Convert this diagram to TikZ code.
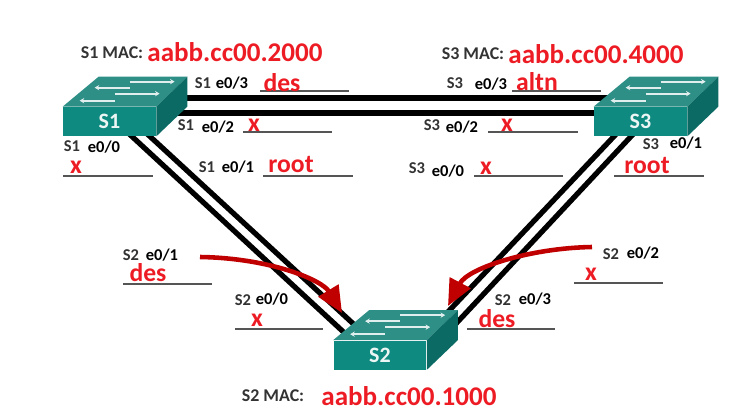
\documentclass[tikz,border=0pt]{standalone}
\usepackage{fontspec}
\setmainfont{Carlito}
\usetikzlibrary{arrows.meta}
\definecolor{swfront}{HTML}{0F8A80}
\definecolor{swtop}{HTML}{2E8F87}
\definecolor{swside}{HTML}{0B6A63}
\definecolor{portred}{HTML}{ED1C24}
\definecolor{markred}{HTML}{C00000}
\definecolor{blankgray}{HTML}{555555}
\tikzset{
  swbox/.style={fill=swfront,minimum width=1.86cm,minimum height=0.58cm,inner sep=0pt,
    text=white!92!swfront,font=\bfseries\fontsize{12.5}{13}\selectfont},
  swflow/.style={draw=white!85!swtop,line width=1pt,-{Stealth[length=2.6pt,width=3pt]}},
  link/.style={black,line width=3pt},
  blank/.style={blankgray,line width=0.8pt},
  redarrow/.style={markred,line width=2.6pt,-{Triangle[width=13pt,length=15pt]}},
  iface/.style={inner sep=0pt,font=\bfseries\fontsize{9.4}{10}\selectfont,text=black!80},
  macname/.style={inner sep=0pt,font=\bfseries\fontsize{10.2}{11}\selectfont,text=black!80},
  port/.style={inner sep=0pt,font=\bfseries\fontsize{9.4}{10}\selectfont},
  state/.style={inner sep=0pt,text=portred,font=\bfseries\fontsize{14.6}{15}\selectfont},
  macaddr/.style={inner sep=0pt,text=portred,font=\bfseries\fontsize{15.4}{16}\selectfont},
}
% front face first, top and side hang on its corners
\newcommand{\switchbox}[4]{
  \node[swbox] (#1) at (#2,-#3) {#4};
  \fill[swtop] (#1.north west) -- ([shift={(36,30)}]#1.north west)
    -- ([shift={(31,30)}]#1.north east) -- (#1.north east) -- cycle;
  \fill[swside] (#1.north east) -- ([shift={(31,30)}]#1.north east)
    -- ([shift={(31,0)}]#1.north east) -- (#1.south east) -- cycle;
  \draw[swflow] ([shift={(67,25)}]#1.north west) -- ([shift={(112,25)}]#1.north west);
  \draw[swflow] ([shift={(67,19)}]#1.north west) -- ([shift={(32,19)}]#1.north west);
  \draw[swflow] ([shift={(52,13)}]#1.north west) -- ([shift={(97,13)}]#1.north west);
  \draw[swflow] ([shift={(52,6)}]#1.north west) -- ([shift={(17,6)}]#1.north west);
}
\begin{document}
\begin{tikzpicture}[x=0.02cm,y=0.02cm]
  \useasboundingbox (0,0) rectangle (735,-417);
  % link ends
  \coordinate (s1topa) at (170,-98);
  \coordinate (s3topa) at (620,-98);
  \coordinate (s1topb) at (170,-113);
  \coordinate (s3topb) at (610,-113);
  \coordinate (s1lefta) at (125,-130);
  \coordinate (s2lefta) at (350,-338);
  \coordinate (s1leftb) at (143,-130);
  \coordinate (s2leftb) at (360,-330);
  \coordinate (s3righta) at (620,-130);
  \coordinate (s2righta) at (445,-315);
  \coordinate (s3rightb) at (637,-130);
  \coordinate (s2rightb) at (450,-330);
  \draw[link] (s1topa) -- (s3topa);
  \draw[link] (s1topb) -- (s3topb);
  \draw[link] (s1lefta) -- (s2lefta);
  \draw[link] (s1leftb) -- (s2leftb);
  \draw[link] (s3righta) -- (s2righta);
  \draw[link] (s3rightb) -- (s2rightb);
  % switches
  \switchbox{s1}{109.5}{121.5}{S1}
  \switchbox{s3}{640.5}{121.5}{S3}
  \switchbox{s2}{380}{355}{S2}
  % mac addresses
  \node[macname] (macsa) at (112,-53) {S1 MAC:};
  \node[macaddr] (maca) at (235,-52) {aabb.cc00.2000};
  \node[macname] (macsc) at (473,-54) {S3 MAC:};
  \node[macaddr] (macc) at (596,-54) {aabb.cc00.4000};
  \node[macname] (macsb) at (273,-396) {S2 MAC:};
  \node[macaddr] (macb) at (409,-396) {aabb.cc00.1000};
  % S1 ports
  \coordinate (bla) at (260,-91); \coordinate (blb) at (349,-91);
  \draw[blank] (bla) -- (blb);
  \node[iface] (swa) at (203,-83) {S1};
  \node[port] (pta) at (232,-83) {e0/3};
  \node[state] (sta) at (282,-83) {des};
  \coordinate (blc) at (243,-132); \coordinate (bld) at (332,-132);
  \draw[blank] (blc) -- (bld);
  \node[iface] (swb) at (186,-125) {S1};
  \node[port] (ptb) at (218,-127) {e0/2};
  \node[state] (stb) at (254,-125) {x};
  \coordinate (ble) at (63,-176); \coordinate (blf) at (153,-176);
  \draw[blank] (ble) -- (blf);
  \node[iface] (swc) at (72,-146) {S1};
  \node[port] (ptc) at (104,-147) {e0/0};
  \node[state] (stc) at (76,-167) {x};
  \coordinate (blg) at (263,-176); \coordinate (blh) at (353,-176);
  \draw[blank] (blg) -- (blh);
  \node[iface] (swd) at (207,-167) {S1};
  \node[port] (ptd) at (238,-167) {e0/1};
  \node[state] (std) at (291,-164) {root};
  % S3 ports
  \coordinate (bli) at (512,-91); \coordinate (blj) at (601,-91);
  \draw[blank] (bli) -- (blj);
  \node[iface] (swe) at (455,-83) {S3};
  \node[port] (pte) at (491,-84) {e0/3};
  \node[state] (ste) at (537,-82) {altn};
  \coordinate (blk) at (488,-132); \coordinate (bll) at (578,-132);
  \draw[blank] (blk) -- (bll);
  \node[iface] (swf) at (432,-125) {S3};
  \node[port] (ptf) at (462,-127) {e0/2};
  \node[state] (stf) at (507,-125) {x};
  \coordinate (blm) at (474,-176); \coordinate (bln) at (563,-176);
  \draw[blank] (blm) -- (bln);
  \node[iface] (swg) at (417,-168) {S3};
  \node[port] (ptg) at (448,-171) {e0/0};
  \node[state] (stg) at (486,-168) {x};
  \coordinate (blo) at (614,-176); \coordinate (blp) at (704,-176);
  \draw[blank] (blo) -- (blp);
  \node[iface] (swh) at (651,-144) {S3};
  \node[port] (pth) at (686,-143) {e0/1};
  \node[state] (sth) at (647,-165) {root};
  % S2 ports
  \coordinate (blq) at (123,-284); \coordinate (blr) at (212,-284);
  \draw[blank] (blq) -- (blr);
  \node[iface] (swi) at (131,-255) {S2};
  \node[port] (pti) at (162,-255) {e0/1};
  \node[state] (sti) at (148,-273) {des};
  \coordinate (bls) at (235,-329); \coordinate (blt) at (323,-329);
  \draw[blank] (bls) -- (blt);
  \node[iface] (swj) at (243,-300) {S2};
  \node[port] (ptj) at (272,-299) {e0/0};
  \node[state] (stj) at (257,-320) {x};
  \coordinate (blu) at (574,-283); \coordinate (blv) at (663,-283);
  \draw[blank] (blu) -- (blv);
  \node[iface] (swk) at (611,-254) {S2};
  \node[port] (ptk) at (643,-253) {e0/2};
  \node[state] (stk) at (591,-274) {x};
  \coordinate (blw) at (467,-329); \coordinate (blx) at (555,-329);
  \draw[blank] (blw) -- (blx);
  \node[iface] (swl) at (503,-300) {S2};
  \node[port] (ptl) at (535,-299) {e0/3};
  \node[state] (stl) at (497,-319) {des};
  % red arrows
  \coordinate (markla) at (200,-257);
  \coordinate (marklb) at (342,-313);
  \coordinate (markra) at (592,-247);
  \coordinate (markrb) at (448,-306);
  \draw[redarrow] (markla) .. controls (270,-258) and (322,-280) .. (marklb);
  \draw[redarrow] (markra) .. controls (530,-248) and (468,-268) .. (markrb);
\end{tikzpicture}
\end{document}
